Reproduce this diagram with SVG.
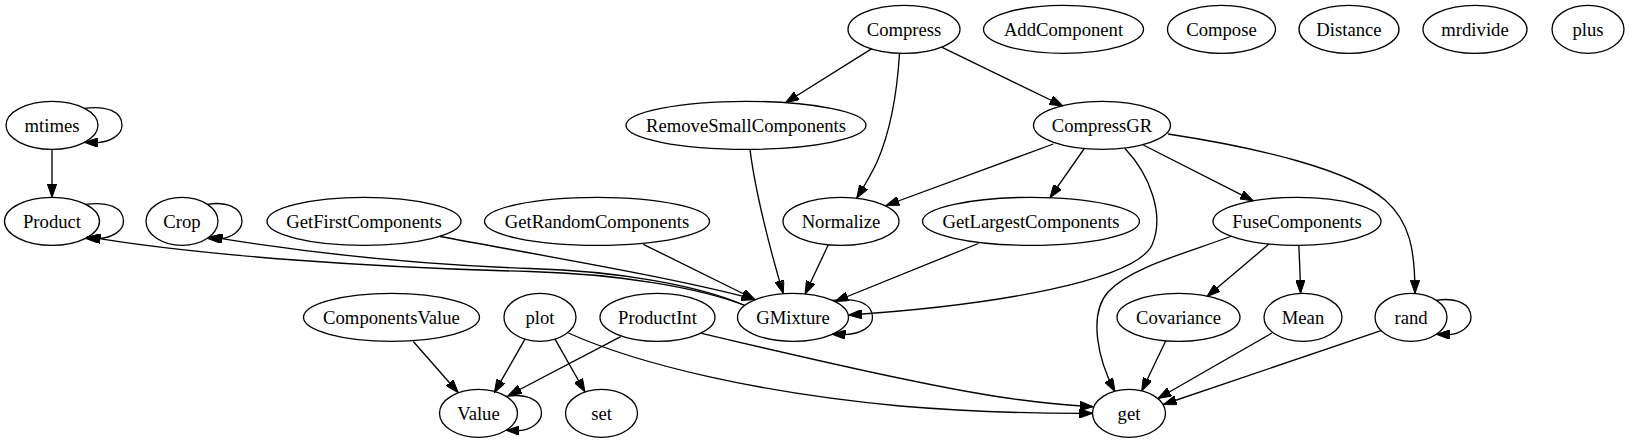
<svg xmlns="http://www.w3.org/2000/svg" width="1629" height="443" viewBox="0 0 1629 443">
<style>
.n ellipse{fill:none;stroke:#000;stroke-width:1.33}
.n text{font-family:'Liberation Serif','Times New Roman','DejaVu Serif',serif;font-size:18.67px;text-anchor:middle;fill:#000}
.e path{fill:none;stroke:#000;stroke-width:1.33;marker-end:url(#ah)}
</style>
<defs>
<marker id="ah" viewBox="0 0 13.33 9.33" refX="13.33" refY="4.67" markerWidth="13.33" markerHeight="9.33" markerUnits="userSpaceOnUse" orient="auto">
<path d="M0,0 L13.33,4.67 L0,9.33 z" fill="#000" stroke="#000" stroke-width="1"/>
</marker>
</defs>
<rect width="1629" height="443" fill="#fff"/>
<g id="edges" class="e">
<path d="M84.5,108.33 C106,105.33 122,111.33 122,125.33 C122,135.33 110,141.83 97.5,142.63 L84.5,142.33"/>
<path d="M52,149.33 L52,197.33"/>
<path d="M85.5,204.33 C107.5,201.33 123.5,207.33 123.5,221.33 C123.5,231.33 111.5,237.83 98.5,238.63 L85.5,238.33"/>
<path d="M207.4,204.33 C226,201.33 242,207.33 242,221.33 C242,231.33 230,237.83 220.4,238.63 L207.4,238.33"/>
<path d="M832.2,300.33 C856.5,297.33 872.5,303.33 872.5,317.33 C872.5,327.33 860.5,333.83 845.2,334.63 L832.2,334.33"/>
<path d="M1436.4,300.33 C1455,297.33 1471,303.33 1471,317.33 C1471,327.33 1459,333.83 1449.4,334.63 L1436.4,334.33"/>
<path d="M506,396.33 C525.5,393.33 541.5,399.33 541.5,413.33 C541.5,423.33 529.5,429.83 519,430.63 L506,430.33"/>
<path d="M871.5,48.9 L785.5,102.7"/>
<path d="M899.5,53.2 C897,95 891,130 877,162 C871,175 863,188 856.7,198.3"/>
<path d="M941.6,47.1 L1063,106"/>
<path d="M1053.3,144 L886,205.5"/>
<path d="M1084.3,148.5 L1050,197.7"/>
<path d="M1143.3,145 L1253.3,200.9"/>
<path d="M1168,134 C1260,148 1350,170 1385,200 C1410,222 1415,250 1415,293.5"/>
<path d="M1125,148.5 C1150,175 1165,215 1152,245 C1135,280 1000,305 848.5,315"/>
<path d="M750,149.3 C755,190 770,250 783.3,293.6"/>
<path d="M828.3,244.8 L805,294.2"/>
<path d="M978.3,243.5 L835,301.5"/>
<path d="M643.3,244.3 L755,299.5"/>
<path d="M440,236.5 C550,257 680,279 755,299.5"/>
<path d="M745,305.5 C700,288 620,274 530,271.5 C380,268 200,256 87.3,236.7"/>
<path d="M745,305.5 C700,286 620,271 530,268.5 C400,264 290,250 209.3,236.7"/>
<path d="M413.3,341.5 L458.3,392.7"/>
<path d="M525,339.2 L494.3,392.7"/>
<path d="M555,339.2 L585,392"/>
<path d="M620.7,336.7 L508.3,395.5"/>
<path d="M568.3,333 C640,365 760,393 900,406 C970,412 1040,413.5 1092.7,413.3"/>
<path d="M701.7,333.3 C780,352 920,385 1000,397 C1040,403 1070,405.5 1093.3,406.7"/>
<path d="M1230.6,236.5 C1180,255 1130,268 1108,292 C1088,315 1098,360 1115,391.7"/>
<path d="M1269,244 L1207,296.5"/>
<path d="M1298.8,245.3 C1299.5,260 1300.3,278 1300.6,293.4"/>
<path d="M1165.8,340.8 L1141.7,391"/>
<path d="M1272,333 L1158,398.5"/>
<path d="M1381,330.6 L1163.3,404.5"/>
</g>
<g id="Compress" class="n"><ellipse cx="904" cy="29.33" rx="56" ry="24"/><text x="904" y="35.5" font-family="Liberation Serif, serif">Compress</text></g>
<g id="AddComponent" class="n"><ellipse cx="1063.5" cy="29.33" rx="80" ry="24"/><text x="1063.5" y="35.5" font-family="Liberation Serif, serif">AddComponent</text></g>
<g id="Compose" class="n"><ellipse cx="1221.5" cy="29.33" rx="54" ry="24"/><text x="1221.5" y="35.5" font-family="Liberation Serif, serif">Compose</text></g>
<g id="Distance" class="n"><ellipse cx="1349" cy="29.33" rx="50" ry="24"/><text x="1349" y="35.5" font-family="Liberation Serif, serif">Distance</text></g>
<g id="mrdivide" class="n"><ellipse cx="1475" cy="29.33" rx="52" ry="24"/><text x="1475" y="35.5" font-family="Liberation Serif, serif">mrdivide</text></g>
<g id="plus" class="n"><ellipse cx="1588" cy="29.33" rx="36" ry="24"/><text x="1588" y="35.5" font-family="Liberation Serif, serif">plus</text></g>
<g id="mtimes" class="n"><ellipse cx="52" cy="125.33" rx="46" ry="24"/><text x="52" y="131.5" font-family="Liberation Serif, serif">mtimes</text></g>
<g id="RemoveSmallComponents" class="n"><ellipse cx="746" cy="125.33" rx="120" ry="24"/><text x="746" y="131.5" font-family="Liberation Serif, serif">RemoveSmallComponents</text></g>
<g id="CompressGR" class="n"><ellipse cx="1102" cy="125.33" rx="68.5" ry="24"/><text x="1102" y="131.5" font-family="Liberation Serif, serif">CompressGR</text></g>
<g id="Product" class="n"><ellipse cx="52" cy="221.33" rx="47.5" ry="24"/><text x="52" y="227.5" font-family="Liberation Serif, serif">Product</text></g>
<g id="Crop" class="n"><ellipse cx="182" cy="221.33" rx="36" ry="24"/><text x="182" y="227.5" font-family="Liberation Serif, serif">Crop</text></g>
<g id="GetFirstComponents" class="n"><ellipse cx="364" cy="221.33" rx="97" ry="24"/><text x="364" y="227.5" font-family="Liberation Serif, serif">GetFirstComponents</text></g>
<g id="GetRandomComponents" class="n"><ellipse cx="597" cy="221.33" rx="112.5" ry="24"/><text x="597" y="227.5" font-family="Liberation Serif, serif">GetRandomComponents</text></g>
<g id="Normalize" class="n"><ellipse cx="841" cy="221.33" rx="58" ry="24"/><text x="841" y="227.5" font-family="Liberation Serif, serif">Normalize</text></g>
<g id="GetLargestComponents" class="n"><ellipse cx="1031" cy="221.33" rx="108.5" ry="24"/><text x="1031" y="227.5" font-family="Liberation Serif, serif">GetLargestComponents</text></g>
<g id="FuseComponents" class="n"><ellipse cx="1297" cy="221.33" rx="84" ry="24"/><text x="1297" y="227.5" font-family="Liberation Serif, serif">FuseComponents</text></g>
<g id="ComponentsValue" class="n"><ellipse cx="391.5" cy="317.33" rx="88" ry="24"/><text x="391.5" y="323.5" font-family="Liberation Serif, serif">ComponentsValue</text></g>
<g id="plot" class="n"><ellipse cx="540" cy="317.33" rx="36" ry="24"/><text x="540" y="323.5" font-family="Liberation Serif, serif">plot</text></g>
<g id="ProductInt" class="n"><ellipse cx="657.5" cy="317.33" rx="57.5" ry="24"/><text x="657.5" y="323.5" font-family="Liberation Serif, serif">ProductInt</text></g>
<g id="GMixture" class="n"><ellipse cx="793" cy="317.33" rx="55.5" ry="24"/><text x="793" y="323.5" font-family="Liberation Serif, serif">GMixture</text></g>
<g id="Covariance" class="n"><ellipse cx="1178.5" cy="317.33" rx="61.5" ry="24"/><text x="1178.5" y="323.5" font-family="Liberation Serif, serif">Covariance</text></g>
<g id="Mean" class="n"><ellipse cx="1303" cy="317.33" rx="39" ry="24"/><text x="1303" y="323.5" font-family="Liberation Serif, serif">Mean</text></g>
<g id="rand" class="n"><ellipse cx="1411" cy="317.33" rx="36" ry="24"/><text x="1411" y="323.5" font-family="Liberation Serif, serif">rand</text></g>
<g id="Value" class="n"><ellipse cx="478.5" cy="413.33" rx="39" ry="24"/><text x="478.5" y="419.5" font-family="Liberation Serif, serif">Value</text></g>
<g id="set" class="n"><ellipse cx="601.5" cy="413.33" rx="36" ry="24"/><text x="601.5" y="419.5" font-family="Liberation Serif, serif">set</text></g>
<g id="get" class="n"><ellipse cx="1129" cy="413.33" rx="36.5" ry="24"/><text x="1129" y="419.5" font-family="Liberation Serif, serif">get</text></g>
</svg>
